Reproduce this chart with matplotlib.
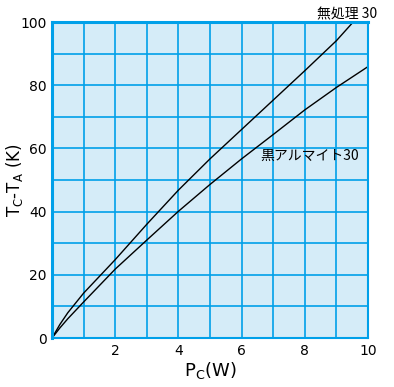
import numpy as np
import matplotlib
matplotlib.use("Agg")
import matplotlib.pyplot as plt

plt.rcParams['font.family'] = ['DejaVu Sans', 'Noto Sans CJK JP']

# 無処理 30
pc_raw = [0, 0.25, 0.5, 1, 2, 3, 4, 5, 6, 7, 8, 9, 9.53]
dt_raw = [0, 4.3, 8, 14.2, 24.8, 36, 46.8, 56.7, 66, 75.3, 84.6, 94.1, 100]
# 黒アルマイト30
pc_blk = [0, 0.25, 0.5, 1, 2, 3, 4, 5, 6, 7, 8, 9, 10]
dt_blk = [0, 3.2, 6.1, 11.4, 21.8, 31, 40.1, 48.6, 56.7, 64.4, 72.2, 79.3, 85.9]

xticks = [2, 4, 6, 8, 10]
yticks = [0, 20, 40, 60, 80, 100]

grid_c = '#00a0e9'
bg_c = '#d5ecf8'

fig = plt.figure(figsize=(3.94, 3.87), dpi=100)
ax = fig.add_axes([0.132, 0.1266, 0.802, 0.8164])
ax.set_facecolor(bg_c)

ax.plot(pc_raw, dt_raw, color='black', lw=1.0)
ax.plot(pc_blk, dt_blk, color='black', lw=1.0)

ax.set_xlim(0, 10)
ax.set_ylim(0, 100)
ax.set_xticks(np.arange(0, 11, 1), minor=True)
ax.set_yticks(np.arange(0, 101, 10), minor=True)
ax.set_xticks(xticks)
ax.set_yticks(yticks)
ax.grid(True, which='both', color=grid_c, lw=1.2)
ax.tick_params(which='both', length=0, labelsize=10, pad=4)
for s in ax.spines.values():
    s.set_color(grid_c)
    s.set_linewidth(1.5)
ax.spines['left'].set_linewidth(2.2)
ax.spines['top'].set_linewidth(2.2)

ax.set_xlabel(r'P$\mathregular{_C}$(W)', fontsize=13, labelpad=2)
ax.set_ylabel(r'T$\mathregular{_C}$-T$\mathregular{_A}$ (K)', fontsize=12)
ax.yaxis.set_label_coords(-0.085, 0.5)

fig.text(0.805, 0.963, '無処理 30', fontsize=10, family=['Noto Sans CJK JP'], va='center')
ax.text(6.6, 57.5, '黒アルマイト30', fontsize=10, family=['Noto Sans CJK JP'], va='center')

fig.savefig('out.png', dpi=100)
